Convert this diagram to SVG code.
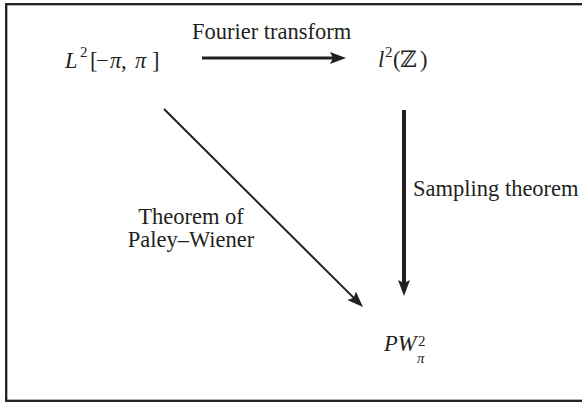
<svg xmlns="http://www.w3.org/2000/svg" width="582" height="403" viewBox="0 0 582 403" font-family="'Liberation Serif', 'Times New Roman', Tinos, 'DejaVu Serif', serif">
<style>
  text { font-family: 'Liberation Serif', 'Times New Roman', Tinos, 'DejaVu Serif', serif; font-size: 22.5px; fill: #231f20; }
  .it { font-style: italic; }
  .sup { font-size: 15px; }
  .edge { stroke: #231f20; fill: none; }
</style>
<defs>
  <marker id="ah" markerUnits="userSpaceOnUse" markerWidth="18" markerHeight="14" refX="8" refY="6" orient="auto">
    <path d="M0,0 L16,6 L0,12 L3,6 z" fill="#231f20"/>
  </marker>
</defs>
<rect x="6.2" y="4.2" width="590" height="396.6" fill="#ffffff" stroke="#231f20" stroke-width="2.3"/>

<g id="connectors">
  <line class="edge" x1="202" y1="58" x2="338" y2="58" stroke-width="3" marker-end="url(#ah)"/>
  <line class="edge" x1="404" y1="110" x2="404" y2="288" stroke-width="4" marker-end="url(#ah)"/>
  <line class="edge" x1="164" y1="109" x2="357.3" y2="301.4" stroke-width="2" marker-end="url(#ah)"/>
  <text x="192" y="39">Fourier transform</text>
  <text x="413" y="196">Sampling theorem</text>
  <text x="191" y="224" text-anchor="middle">Theorem of</text>
  <text x="191" y="247" text-anchor="middle">Paley–Wiener</text>
</g>

<g id="node-L2">
  <text x="65" y="68"><tspan class="it">L</tspan><tspan class="sup" x="80" dy="-11">2</tspan><tspan x="90" dy="11">[</tspan><tspan x="96">−</tspan><tspan class="it" x="110">π</tspan><tspan x="121">,</tspan><tspan class="it" x="135">π</tspan><tspan x="152">]</tspan></text>
</g>

<g id="node-l2Z">
  <text x="378" y="67"><tspan class="it">l</tspan><tspan class="sup" x="385" dy="-10">2</tspan><tspan x="393" dy="10">(</tspan><tspan x="400">ℤ</tspan><tspan x="420">)</tspan></text>
</g>

<g id="node-PW">
  <text x="384" y="351"><tspan class="it">PW</tspan><tspan class="sup" x="418" dy="-5">2</tspan><tspan class="sup it" x="417" dy="17">π</tspan></text>
</g>
</svg>
